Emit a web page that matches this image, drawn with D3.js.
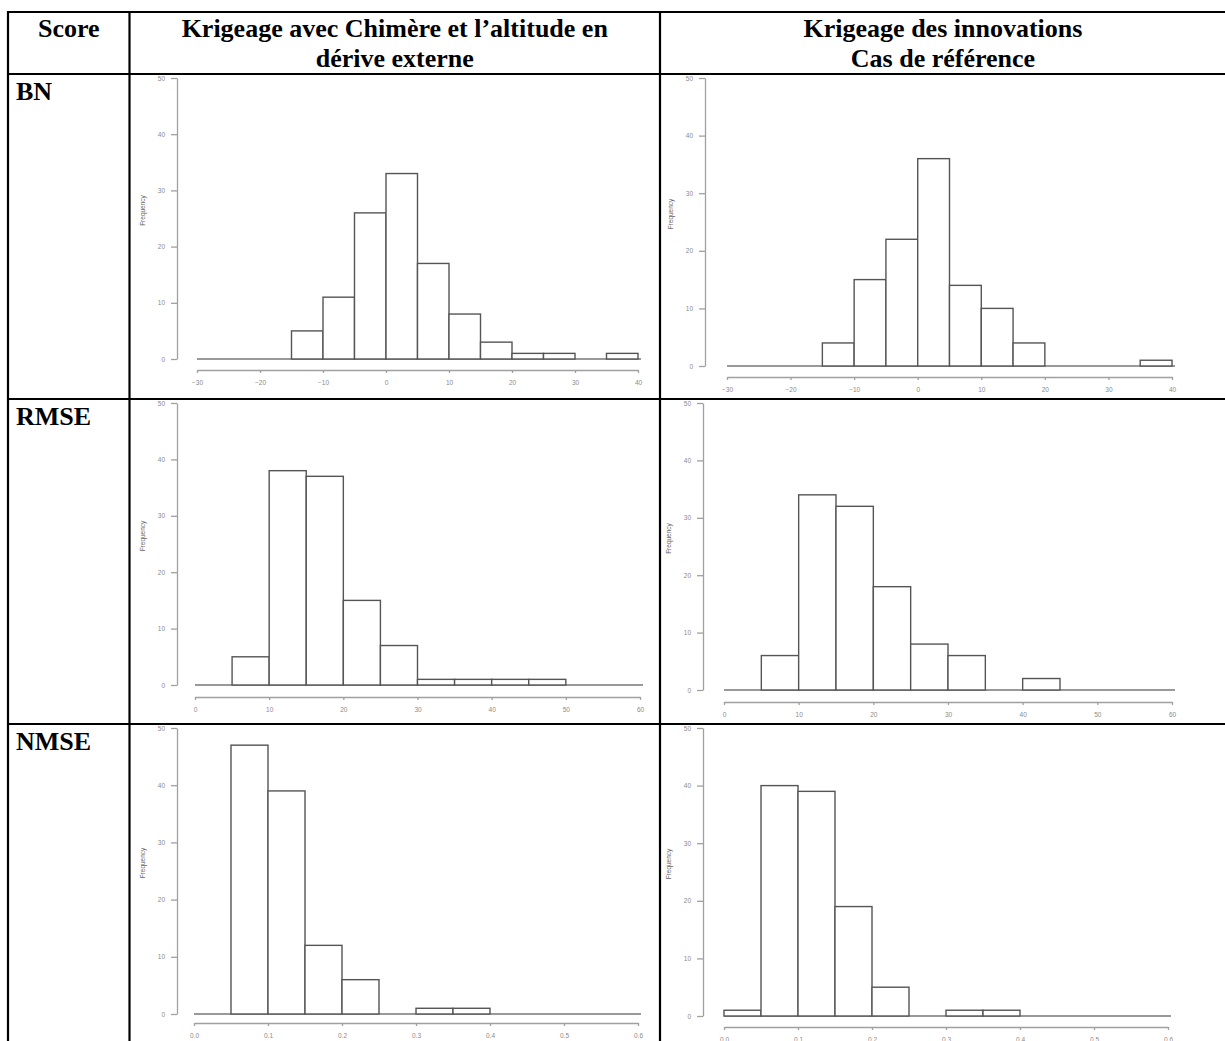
<!DOCTYPE html>
<html>
<head>
<meta charset="utf-8">
<script src="https://cdn.jsdelivr.net/npm/d3@7"></script>
<style>
  body { margin: 0; background: #fff; }
  svg { display: block; }
  .hdr { font-family: "Liberation Serif", "Times New Roman", serif; font-weight: bold; font-size: 26px; fill: #000; }
  .tick-lbl { font-family: "Liberation Sans", Arial, sans-serif; font-size: 6.5px; fill: #8a8a8a; }
</style>
</head>
<body>
<script>
"use strict";

// en-têtes du tableau
var colTitles = [["Score"], ["Krigeage avec Chimère et l’altitude en", "dérive externe"], ["Krigeage des innovations", "Cas de référence"]];
var rowLabels = ["BN", "RMSE", "NMSE"];

// graduations
var freqTicks = [0, 10, 20, 30, 40, 50];
var bnTicks = [-30, -20, -10, 0, 10, 20, 30, 40];
var rmseTicks = [0, 10, 20, 30, 40, 50, 60];
var nmseTicks = [0, 0.1, 0.2, 0.3, 0.4, 0.5, 0.6];

// classes des histogrammes (début de classe) et effectifs
var bnBins = [-15, -10, -5, 0, 5, 10, 15, 20, 25, 30, 35];
var bnChimere = [5, 11, 26, 33, 17, 8, 3, 1, 1, 0, 1];
var bnInnov = [4, 15, 22, 36, 14, 10, 4, 0, 0, 0, 1];

var rmseBins = [5, 10, 15, 20, 25, 30, 35, 40, 45];
var rmseChimere = [5, 38, 37, 15, 7, 1, 1, 1, 1];
var rmseInnov = [6, 34, 32, 18, 8, 6, 0, 2, 0];

var nmseBins = [0, 0.05, 0.1, 0.15, 0.2, 0.25, 0.3, 0.35];
var nmseChimere = [0, 47, 39, 12, 6, 0, 1, 1];
var nmseInnov = [1, 40, 39, 19, 5, 0, 1, 1];

var W = 1225, H = 1041;
var svg = d3.select("body").append("svg").attr("width", W).attr("height", H);

// tableau
var colX = [8, 129.5, 660, 1230];
var rowY = [12, 74, 399, 724, 1050];

var grid = svg.append("g").attr("class", "grid");
colX.forEach(function(x) {
  grid.append("line").attr("x1", x).attr("x2", x).attr("y1", rowY[0] - 1).attr("y2", rowY[rowY.length - 1])
    .attr("stroke", "#000").attr("stroke-width", 2.2);
});
rowY.forEach(function(y) {
  grid.append("line").attr("x1", colX[0] - 1).attr("x2", colX[colX.length - 1]).attr("y1", y).attr("y2", y)
    .attr("stroke", "#000").attr("stroke-width", 2.2);
});

colTitles.forEach(function(lines, i) {
  var cx = i === 2 ? 943 : (colX[i] + colX[i + 1]) / 2;
  lines.forEach(function(t, j) {
    svg.append("text").attr("class", "hdr")
      .attr("x", cx).attr("y", 37 + j * 30)
      .attr("text-anchor", "middle")
      .text(t);
  });
});

rowLabels.forEach(function(t, i) {
  svg.append("text").attr("class", "hdr")
    .attr("x", 16).attr("y", rowY[i + 1] + 26)
    .text(t);
});

// histogrammes
var charts = [
  { bins: bnBins, counts: bnChimere, w: 5, ticks: bnTicks, fmt: d3.format("d"), ax: 177, top: 78, base: 359, x0: 197, x1: 638, axY: 370 },
  { bins: bnBins, counts: bnInnov, w: 5, ticks: bnTicks, fmt: d3.format("d"), ax: 705, top: 78, base: 366, x0: 727, x1: 1172, axY: 377 },
  { bins: rmseBins, counts: rmseChimere, w: 5, ticks: rmseTicks, fmt: d3.format("d"), ax: 177, top: 403, base: 685, x0: 195, x1: 640, axY: 697 },
  { bins: rmseBins, counts: rmseInnov, w: 5, ticks: rmseTicks, fmt: d3.format("d"), ax: 703, top: 403, base: 690, x0: 724, x1: 1172, axY: 702 },
  { bins: nmseBins, counts: nmseChimere, w: 0.05, ticks: nmseTicks, fmt: d3.format(".1f"), ax: 177, top: 728, base: 1014, x0: 194, x1: 638, axY: 1023 },
  { bins: nmseBins, counts: nmseInnov, w: 0.05, ticks: nmseTicks, fmt: d3.format(".1f"), ax: 703, top: 728, base: 1016, x0: 724, x1: 1168, axY: 1027 }
];

charts.forEach(function(c) {
  var g = svg.append("g").attr("class", "hist");
  var x = d3.scaleLinear().domain(d3.extent(c.ticks)).range([c.x0, c.x1]);
  var y = d3.scaleLinear().domain(d3.extent(freqTicks)).range([c.base, c.top]);

  // axe des y
  var ya = g.append("g").attr("transform", "translate(" + c.ax + ",0)")
    .call(d3.axisLeft(y).tickValues(freqTicks).tickSize(6).tickPadding(6).tickSizeOuter(0));
  ya.select(".domain").attr("stroke", "#a0a0a0").attr("stroke-width", 1.3);
  ya.selectAll(".tick line").attr("stroke", "#a0a0a0").attr("stroke-width", 1.3);
  ya.selectAll(".tick text").attr("class", "tick-lbl").attr("font-family", null).attr("font-size", null).attr("fill", null);

  g.append("text").attr("class", "tick-lbl")
    .attr("transform", "translate(" + (c.ax - 32) + "," + ((c.top + c.base) / 2 - 8) + ") rotate(-90)")
    .attr("text-anchor", "middle").style("fill", "#666").text("Frequency");

  // axe des x (décalé sous la ligne de base)
  var xa = g.append("g").attr("transform", "translate(0," + c.axY + ")")
    .call(d3.axisBottom(x).tickValues(c.ticks).tickFormat(c.fmt).tickSize(3).tickPadding(7).tickSizeOuter(0));
  xa.select(".domain").attr("stroke", "#a0a0a0").attr("stroke-width", 1.3);
  xa.selectAll(".tick line").attr("stroke", "#a0a0a0").attr("stroke-width", 1.3);
  xa.selectAll(".tick text").attr("class", "tick-lbl").attr("font-family", null).attr("font-size", null).attr("fill", null);

  // ligne de base
  g.append("line").attr("x1", x.range()[0]).attr("x2", x.range()[1] + 3)
    .attr("y1", y(0)).attr("y2", y(0))
    .attr("stroke", "#777").attr("stroke-width", 1.4);

  // barres
  var bars = c.bins.map(function(b, i) { return { start: b, n: c.counts[i] }; })
    .filter(function(d) { return d.n > 0; });
  g.selectAll("rect.bar").data(bars).enter().append("rect")
    .attr("class", "bar")
    .attr("x", function(d) { return x(d.start); })
    .attr("width", function(d) { return x(d.start + c.w) - x(d.start); })
    .attr("y", function(d) { return y(d.n); })
    .attr("height", function(d) { return y(0) - y(d.n); })
    .attr("fill", "#fff")
    .attr("stroke", "#555")
    .attr("stroke-width", 1.4);
});
</script>
</body>
</html>
